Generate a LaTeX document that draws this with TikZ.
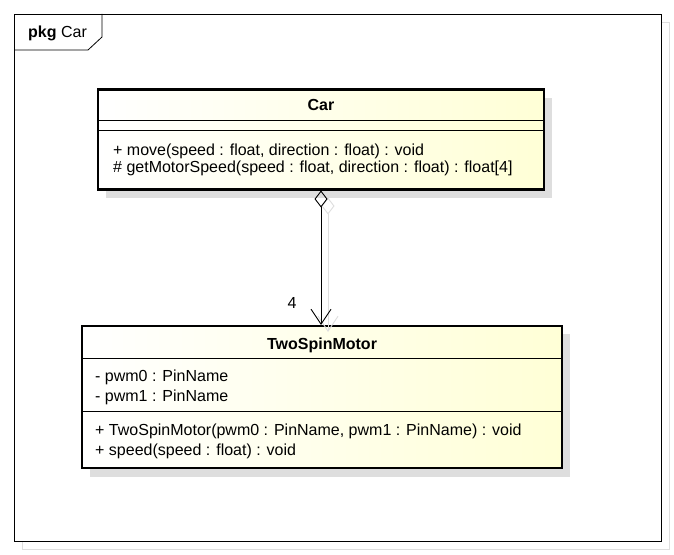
\documentclass[tikz,border=0pt]{standalone}
\usepackage{fontspec}
\setmainfont{Liberation Sans}
\usetikzlibrary{arrows.meta, positioning}

\definecolor{classfill}{RGB}{255,255,214}
\definecolor{shadowgray}{RGB}{222,222,222}

\begin{document}
\begin{tikzpicture}[x=1bp, y=-1bp,
  font=\fontsize{16bp}{18bp}\selectfont,
  classbox/.style={rectangle, draw=black, line width=2.6bp,
    left color=white, right color=classfill, inner sep=0pt},
  classshadow/.style={fill=shadowgray, draw=none},
  divider/.style={line width=0.8bp},
  member/.style={anchor=west, inner sep=0pt},
  title/.style={font=\fontsize{16bp}{18bp}\selectfont\bfseries},
  assoc/.style={line width=0.9bp,
    {Diamond[open, length=17bp, width=13bp]}-{Straight Barb[length=15bp, width=20bp]}},
  assocshadow/.style={assoc, draw=shadowgray}]

\useasboundingbox (0,0) rectangle (674,555);

% package frame
\draw[shadowgray, line width=0.8bp] (22,22) rectangle (669,549);
\draw[line width=0.8bp, fill=white] (14,14) rectangle (661,541);
\draw[line width=0.8bp] (14,50) -- (88,50) -- (102,37) -- (102,14);
\node[member] (pkg) at (28,33) {\textbf{pkg} Car};

% shadows
\fill[classshadow] (106,98) rectangle (552,198);
\fill[classshadow] (90,334) rectangle (570,477);

% class Car
\node[classbox, minimum width=446bp, minimum height=100bp]
(car) at (321,139.5) {};
\draw[divider] (98,120) -- (544,120);
\draw[divider] (98,130) -- (544,130);
\node[title] (car-title) at (321,105) {Car};
\node[member] (car-op1) at (113,151) {+ move(speed : float, direction : float) : void};
\node[member] (car-op2) at (113,168) {\# getMotorSpeed(speed : float, direction : float) : float[4]};

% class TwoSpinMotor
\node[classbox, minimum width=480bp, minimum height=142bp]
(motor) at (322,397) {};
\draw[divider] (82,358) -- (562,358);
\draw[divider] (82,411) -- (562,411);
\node[title] (motor-title) at (322,345) {TwoSpinMotor};
\node[member] (motor-attr1) at (95,377) {- pwm0 : PinName};
\node[member] (motor-attr2) at (95,397) {- pwm1 : PinName};
\node[member] (motor-op1) at (95,431) {+ TwoSpinMotor(pwm0 : PinName, pwm1 : PinName) : void};
\node[member] (motor-op2) at (95,451) {+ speed(speed : float) : void};

% aggregation
\coordinate (agg-start) at (321,190.5);
\coordinate (agg-end) at (321,325);
\draw[assocshadow] ([shift={(7,7)}]agg-start) -- ([shift={(7,7)}]agg-end);
\draw[assoc] (agg-start) -- (agg-end);
\node[anchor=east] (mult) at (300,303) {4};

\end{tikzpicture}
\end{document}
